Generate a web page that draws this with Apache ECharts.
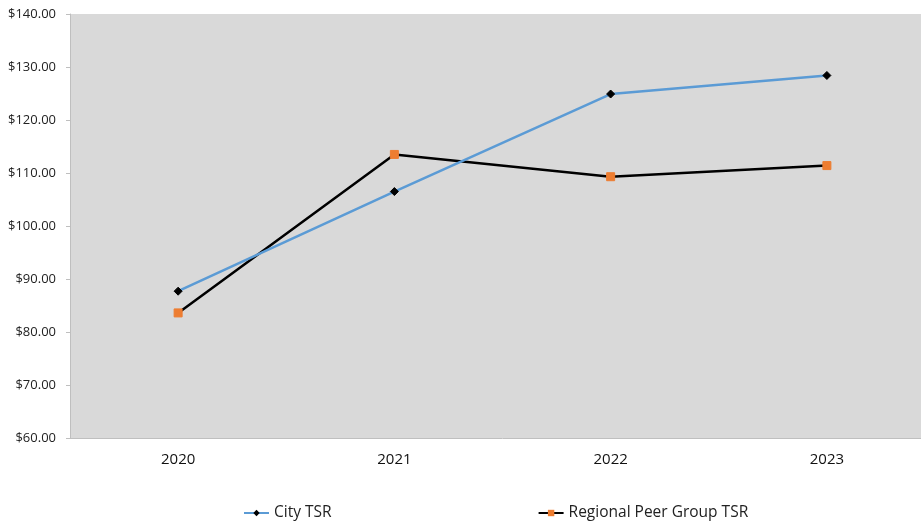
<!DOCTYPE html>
<html>
<head>
<meta charset="utf-8">
<script src="https://cdn.jsdelivr.net/npm/echarts@6/dist/echarts.min.js"></script>
<style>
  html, body { margin: 0; padding: 0; background: #fff; overflow: hidden; }
</style>
</head>
<body>
<!-- plot area runs past the right edge in the reference, so the chart box is a bit wider than the window -->
<div id="chart" style="width: 935px; height: 522px;"></div>
<script>
const years = ['2020', '2021', '2022', '2023'];
const cityTsr = [87.7, 106.5, 124.9, 128.4];
const peerTsr = [83.6, 113.5, 109.3, 111.4];
const yTicks = { min: 60, max: 140, interval: 10 };

const chart = echarts.init(document.getElementById('chart'));

chart.setOption({
  animation: false,
  textStyle: { fontFamily: 'Open Sans, Liberation Sans, sans-serif' },
  grid: {
    left: 70,
    top: 14,
    bottom: 84,
    right: 0,
    show: true,
    backgroundColor: '#d9d9d9',
    borderWidth: 0
  },
  legend: {
    top: 505,
    left: 243,
    padding: 0,
    itemGap: 206,
    itemWidth: 25,
    itemHeight: 8,
    textStyle: { fontSize: 15.5, color: '#222' },
    data: ['City TSR', 'Regional Peer Group TSR']
  },
  xAxis: {
    type: 'category',
    data: years,
    axisLine: { lineStyle: { color: '#bfbfbf', width: 1 } },
    axisTick: { show: false },
    axisLabel: { color: '#111', fontSize: 15, margin: 14 }
  },
  yAxis: {
    type: 'value',
    min: yTicks.min,
    max: yTicks.max,
    interval: yTicks.interval,
    axisLine: { show: true, lineStyle: { color: '#bfbfbf', width: 1 } },
    axisTick: { show: true, inside: false, length: 4, lineStyle: { color: '#bfbfbf' } },
    splitLine: { show: false },
    axisLabel: {
      color: '#222',
      fontSize: 13,
      margin: 14,
      formatter: v => '$' + v.toFixed(2)
    }
  },
  series: [
    {
      name: 'City TSR',
      type: 'line',
      data: cityTsr,
      symbol: 'diamond',
      symbolSize: 8,
      lineStyle: { color: '#5b9bd5', width: 2.5 },
      itemStyle: { color: '#000', borderColor: '#000' },
      z: 3
    },
    {
      name: 'Regional Peer Group TSR',
      type: 'line',
      data: peerTsr,
      symbol: 'rect',
      symbolSize: 8,
      lineStyle: { color: '#000', width: 2.5 },
      itemStyle: { color: '#ed7d31', borderColor: '#ed7d31' },
      z: 2
    }
  ]
});
</script>
</body>
</html>
